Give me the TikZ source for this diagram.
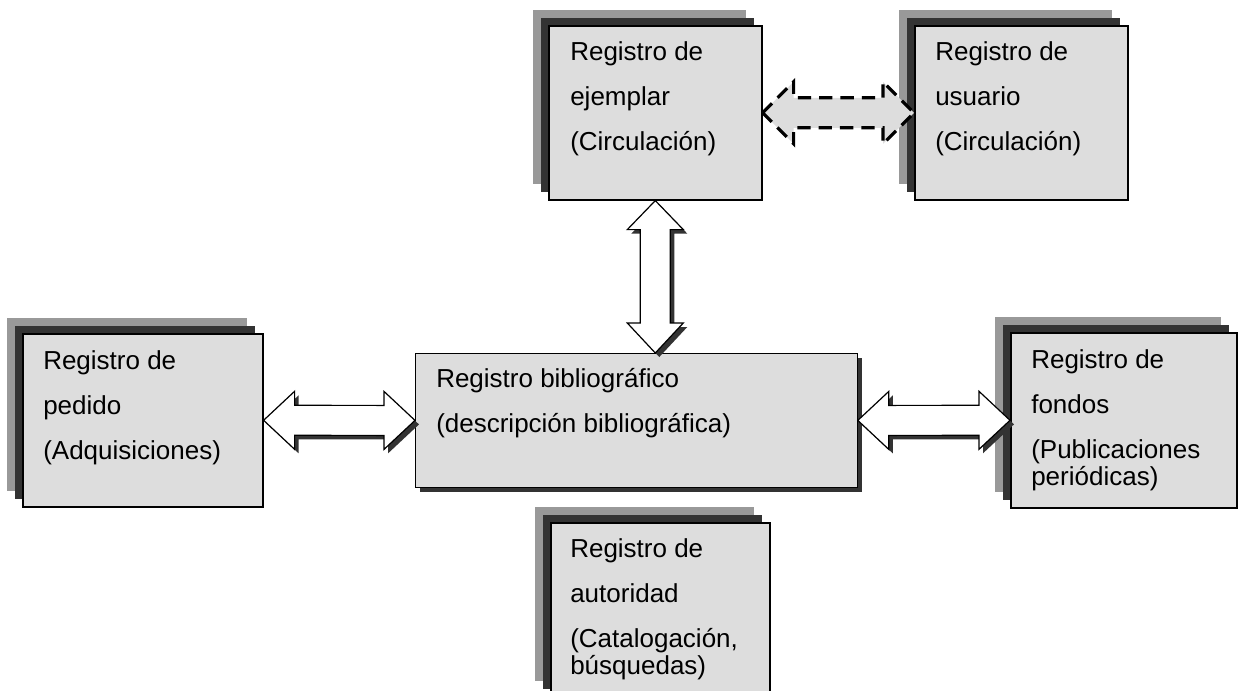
\documentclass[tikz,border=0pt]{standalone}
\usepackage{fontspec}
\setmainfont{Liberation Sans}
\usetikzlibrary{shadows,calc}
\definecolor{cardgray}{HTML}{DDDDDD}
\definecolor{lightshade}{HTML}{999999}
\definecolor{darkshade}{HTML}{333333}
\newcommand\cardfont{\fontsize{19.5}{20.25}\selectfont}
\newcommand\cardtxt[1]{\parbox[t]{8cm}{\cardfont\raggedright #1}}
\newcommand\harrow[4][blockarrow]{%
  \draw[#1] (#2) -- ++(31,-#4) -- ++(0,#4-15) -- ($(#3)+(-31,-15)$) -- ++(0,15-#4)
    -- (#3) -- ++(-31,#4) -- ++(0,15-#4) -- ($(#2)+(31,15)$) -- ++(0,#4-15) -- cycle;}
\newcommand\varrow[3][blockarrow]{%
  \draw[#1] (#2) -- ++(-28,29) -- ++(13,0) -- ($(#3)+(-15,-30)$) -- ++(-13,0)
    -- (#3) -- ++(28,-30) -- ++(-13,0) -- ($(#2)+(15,29)$) -- ++(13,0) -- cycle;}
\tikzset{
  card/.style={draw, line width=1.2pt, fill=cardgray, anchor=north west, inner sep=0pt,
    general shadow={fill=lightshade, shadow xshift=-11.5pt, shadow yshift=11.5pt},
    general shadow={fill=darkshade, shadow xshift=-5.75pt, shadow yshift=5.75pt}},
  mainbox/.style={draw, line width=0.6pt, fill=cardgray, anchor=north west, inner sep=0pt,
    general shadow={fill=darkshade, shadow xshift=3.75pt, shadow yshift=-3.75pt}},
  cardtext/.style={anchor=base west, inner sep=0pt},
  blockarrow/.style={draw, fill=white, line width=0.9pt,
    general shadow={fill=darkshade, shadow xshift=3pt, shadow yshift=-3pt}},
  dasharrow/.style={draw, fill=cardgray, line width=2.4pt, dash pattern=on 10pt off 6pt}
}
\begin{document}
\begin{tikzpicture}[x=0.75pt, y=-0.75pt]
  \clip (0,0) rectangle (1239,690);
  \node[card, minimum width=240*.75pt, minimum height=173*.75pt] (pedido) at (22,333) {};
  \node[card, minimum width=213*.75pt, minimum height=174*.75pt] (ejemplar) at (548,25) {};
  \node[card, minimum width=213*.75pt, minimum height=174*.75pt] (usuario) at (914,25) {};
  \node[card, minimum width=226*.75pt, minimum height=175*.75pt] (fondos) at (1010,332) {};
  \node[card, minimum width=219*.75pt, minimum height=174*.75pt] (autoridad) at (550,522) {};
  \node[mainbox, minimum width=442*.75pt, minimum height=134*.75pt] (biblio) at (415,353) {};

  \node[cardtext] (pedidoT) at ([shift={(21,36)}]pedido.north west)
    {\cardtxt{Registro de\\[13.5pt]pedido\\[13.5pt](Adquisiciones)}};
  \node[cardtext] (ejemplarT) at ([shift={(22,35)}]ejemplar.north west)
    {\cardtxt{Registro de\\[13.5pt]ejemplar\\[13.5pt](Circulación)}};
  \node[cardtext] (usuarioT) at ([shift={(21,35)}]usuario.north west)
    {\cardtxt{Registro de\\[13.5pt]usuario\\[13.5pt](Circulación)}};
  \node[cardtext] (fondosT) at ([shift={(21,36)}]fondos.north west)
    {\cardtxt{Registro de\\[13.5pt]fondos\\[13.5pt](Publicaciones\\periódicas)}};
  \node[cardtext] (autoridadT) at ([shift={(20,35)}]autoridad.north west)
    {\cardtxt{Registro de\\[13.5pt]autoridad\\[13.5pt](Catalogación,\\búsquedas)}};
  \node[cardtext] (biblioT) at ([shift={(21,34)}]biblio.north west)
    {\cardtxt{Registro bibliográfico\\[13.5pt](descripción bibliográfica)}};

  \harrow{pedido.east}{biblio.west}{29}
  \harrow{biblio.east}{fondos.west}{29}
  \varrow{ejemplar.south}{ejemplar.south |- biblio.north}
  \harrow[dasharrow]{ejemplar.east}{usuario.west}{31}
\end{tikzpicture}
\end{document}
